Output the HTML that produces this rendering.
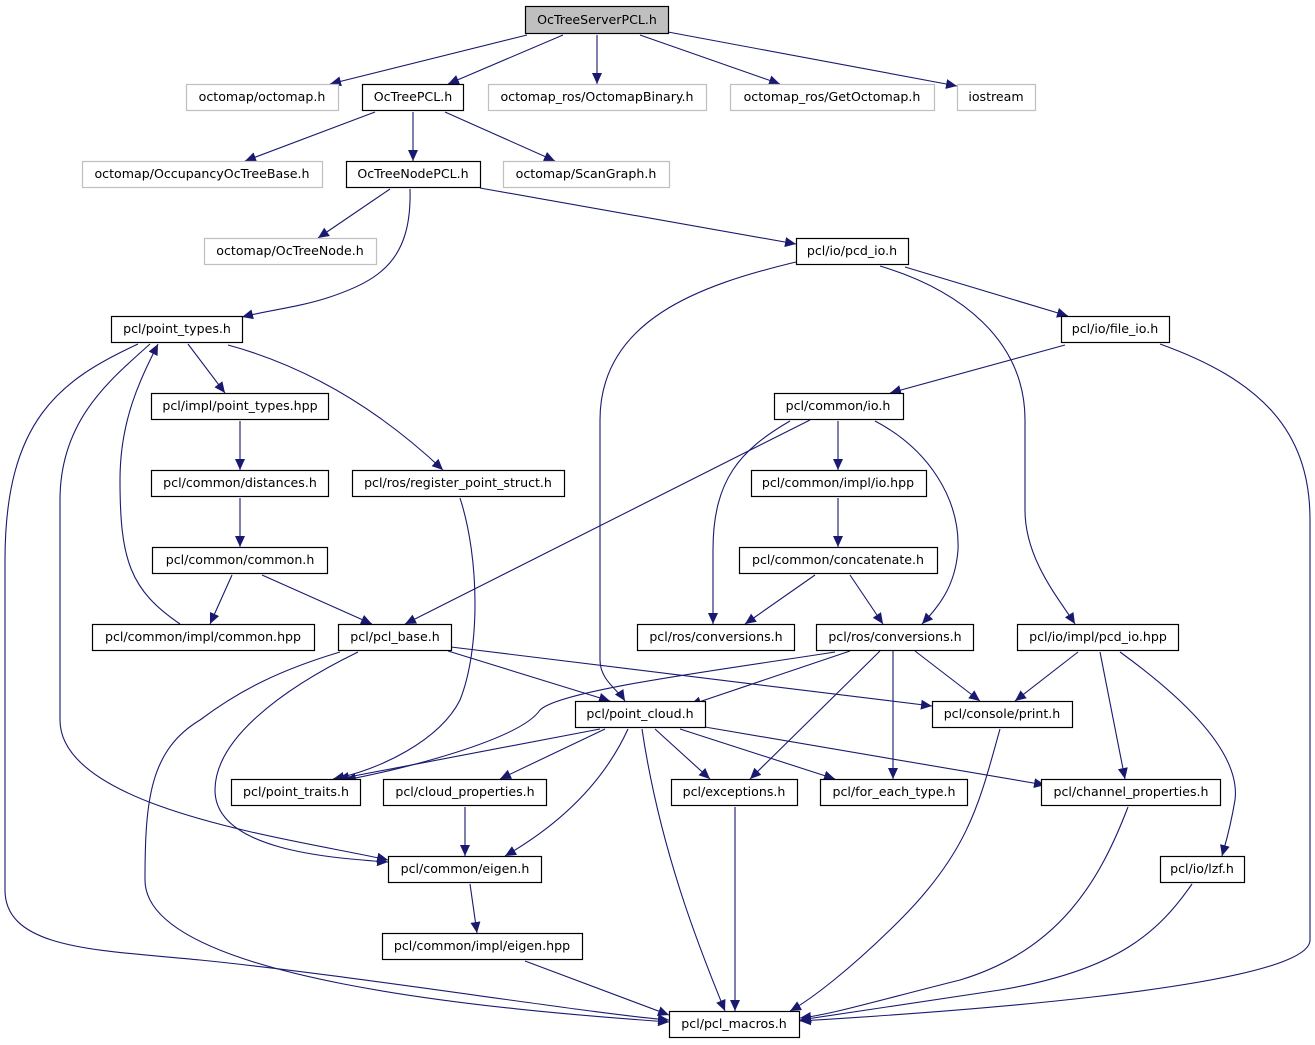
<!DOCTYPE html>
<html><head><meta charset="utf-8"><style>
html,body{margin:0;padding:0;background:#fff}
svg{display:block}
text{font-family:"DejaVu Sans","Liberation Sans",sans-serif;font-size:12.6px;fill:#000}
.n rect{fill:#fff;stroke:#000;stroke-width:1.2}
.g rect{fill:#fff;stroke:#bfbfbf;stroke-width:1.2}
path.e{fill:none;stroke:#191970;stroke-width:1.1;marker-end:url(#a)}
</style></head><body>
<svg width="1315" height="1045" viewBox="0 0 1315 1045" xmlns="http://www.w3.org/2000/svg">
<defs><marker id="a" markerUnits="userSpaceOnUse" markerWidth="12" markerHeight="10" refX="11" refY="5" orient="auto"><path d="M0,0 L11,5 L0,10 z" fill="#191970"/></marker></defs>
<g>
<path class="e" d="M527,35 L330,84"/>
<path class="e" d="M563,35 L448,84"/>
<path class="e" d="M597,35 L597,84"/>
<path class="e" d="M640,35 L780,84"/>
<path class="e" d="M668,32 L957,86"/>
<path class="e" d="M375,112 L245,161"/>
<path class="e" d="M413,112 L413,161"/>
<path class="e" d="M445,112 L555,161"/>
<path class="e" d="M390,189 L318,238"/>
<path class="e" d="M410,189 C412,260 380,280 330,297 C300,307 270,310 242,317"/>
<path class="e" d="M480,188 L796,244"/>
<path class="e" d="M796,262 C700,285 600,320 600,420 L600,660 C600,680 618,690 625,701"/>
<path class="e" d="M905,267 L1068,316"/>
<path class="e" d="M880,266 C960,290 1025,340 1025,420 L1025,510 C1025,560 1060,600 1075,624"/>
<path class="e" d="M1065,345 L890,393"/>
<path class="e" d="M1160,344 C1260,380 1310,430 1310,520 L1310,940 C1310,990 900,1015 800,1021"/>
<path class="e" d="M188,344 L225,393"/>
<path class="e" d="M228,345 C320,370 390,420 443,470"/>
<path class="e" d="M138,344 C60,380 5,420 5,560 L5,890 C5,950 100,950 200,960 C350,975 600,1015 669,1020"/>
<path class="e" d="M150,344 C110,380 60,420 60,500 L60,720 C60,810 300,840 388,860"/>
<path class="e" d="M180,624 C130,590 120,560 120,480 C120,420 140,380 158,344"/>
<path class="e" d="M240,421 L240,470"/>
<path class="e" d="M240,498 L240,547"/>
<path class="e" d="M232,575 L210,624"/>
<path class="e" d="M262,575 L372,624"/>
<path class="e" d="M460,498 C480,560 480,650 460,700 C440,740 380,770 333,779"/>
<path class="e" d="M810,420 L405,624"/>
<path class="e" d="M838,421 L838,470"/>
<path class="e" d="M790,421 C740,450 713,480 713,550 L713,624"/>
<path class="e" d="M875,421 C930,450 960,500 958,550 C955,590 935,610 922,624"/>
<path class="e" d="M838,498 L838,547"/>
<path class="e" d="M815,575 L745,624"/>
<path class="e" d="M850,575 L883,624"/>
<path class="e" d="M448,651 L610,701"/>
<path class="e" d="M451,647 L932,706"/>
<path class="e" d="M358,652 C280,690 215,740 215,790 C215,850 330,858 388,862"/>
<path class="e" d="M340,652 C280,670 240,690 200,720 C150,750 145,800 145,880 C145,980 500,1010 669,1022"/>
<path class="e" d="M850,651 L690,705"/>
<path class="e" d="M835,652 C720,670 560,690 540,710 C520,740 400,770 345,780"/>
<path class="e" d="M915,651 L980,701"/>
<path class="e" d="M880,651 L750,779"/>
<path class="e" d="M893,651 L893,779"/>
<path class="e" d="M1078,652 L1015,701"/>
<path class="e" d="M1100,652 L1125,779"/>
<path class="e" d="M1120,652 C1200,710 1240,760 1235,800 C1230,830 1225,845 1222,856"/>
<path class="e" d="M600,729 L338,779"/>
<path class="e" d="M605,729 L500,779"/>
<path class="e" d="M628,729 C600,790 550,830 505,856"/>
<path class="e" d="M655,729 L710,779"/>
<path class="e" d="M680,729 L835,779"/>
<path class="e" d="M705,727 L1045,785"/>
<path class="e" d="M642,729 C660,850 700,950 725,1011"/>
<path class="e" d="M1000,729 C980,800 970,850 900,920 C850,970 810,1000 790,1011"/>
<path class="e" d="M465,807 L465,856"/>
<path class="e" d="M735,807 L735,1011"/>
<path class="e" d="M1128,807 C1100,880 1060,950 960,980 C880,1000 830,1015 800,1018"/>
<path class="e" d="M1192,884 C1160,930 1120,970 1000,990 C900,1005 830,1015 800,1020"/>
<path class="e" d="M470,884 L477,933"/>
<path class="e" d="M525,961 L669,1015"/>
</g>
<g text-anchor="middle">
<g><rect x="525.5" y="6.5" width="143" height="27" fill="#bfbfbf" stroke="#000" stroke-width="1.2"/><text x="597" y="24">OcTreeServerPCL.h</text></g>
<g class="g"><rect x="186.5" y="84.5" width="152" height="26"/><text x="262" y="101">octomap/octomap.h</text></g>
<g class="n"><rect x="362.5" y="84.5" width="101" height="26"/><text x="413" y="101">OcTreePCL.h</text></g>
<g class="g"><rect x="488.5" y="84.5" width="218" height="26"/><text x="597" y="101">octomap_ros/OctomapBinary.h</text></g>
<g class="g"><rect x="730.5" y="84.5" width="204" height="26"/><text x="832" y="101">octomap_ros/GetOctomap.h</text></g>
<g class="g"><rect x="957.5" y="84.5" width="78" height="26"/><text x="996" y="101">iostream</text></g>
<g class="g"><rect x="82.5" y="161.5" width="240" height="26"/><text x="202" y="178">octomap/OccupancyOcTreeBase.h</text></g>
<g class="n"><rect x="346.5" y="161.5" width="134" height="26"/><text x="413" y="178">OcTreeNodePCL.h</text></g>
<g class="g"><rect x="503.5" y="161.5" width="166" height="26"/><text x="586" y="178">octomap/ScanGraph.h</text></g>
<g class="g"><rect x="204.5" y="238.5" width="172" height="26"/><text x="290" y="255">octomap/OcTreeNode.h</text></g>
<g class="n"><rect x="796.5" y="238.5" width="112" height="26"/><text x="852" y="255">pcl/io/pcd_io.h</text></g>
<g class="n"><rect x="111.5" y="316.5" width="131" height="26"/><text x="177" y="333">pcl/point_types.h</text></g>
<g class="n"><rect x="1061.5" y="316.5" width="108" height="26"/><text x="1115" y="333">pcl/io/file_io.h</text></g>
<g class="n"><rect x="151.5" y="393.5" width="177" height="26"/><text x="240" y="410">pcl/impl/point_types.hpp</text></g>
<g class="n"><rect x="774.5" y="393.5" width="129" height="26"/><text x="838" y="410">pcl/common/io.h</text></g>
<g class="n"><rect x="151.5" y="470.5" width="177" height="26"/><text x="240" y="487">pcl/common/distances.h</text></g>
<g class="n"><rect x="352.5" y="470.5" width="212" height="26"/><text x="458" y="487">pcl/ros/register_point_struct.h</text></g>
<g class="n"><rect x="751.5" y="470.5" width="175" height="26"/><text x="838" y="487">pcl/common/impl/io.hpp</text></g>
<g class="n"><rect x="152.5" y="547.5" width="175" height="26"/><text x="240" y="564">pcl/common/common.h</text></g>
<g class="n"><rect x="739.5" y="547.5" width="198" height="26"/><text x="838" y="564">pcl/common/concatenate.h</text></g>
<g class="n"><rect x="92.5" y="624.5" width="222" height="26"/><text x="203" y="641">pcl/common/impl/common.hpp</text></g>
<g class="n"><rect x="338.5" y="624.5" width="113" height="26"/><text x="395" y="641">pcl/pcl_base.h</text></g>
<g class="n"><rect x="637.5" y="624.5" width="157" height="26"/><text x="716" y="641">pcl/ros/conversions.h</text></g>
<g class="n"><rect x="816.5" y="624.5" width="157" height="26"/><text x="895" y="641">pcl/ros/conversions.h</text></g>
<g class="n"><rect x="1017.5" y="624.5" width="161" height="26"/><text x="1098" y="641">pcl/io/impl/pcd_io.hpp</text></g>
<g class="n"><rect x="575.5" y="701.5" width="130" height="26"/><text x="640" y="718">pcl/point_cloud.h</text></g>
<g class="n"><rect x="932.5" y="701.5" width="140" height="26"/><text x="1002" y="718">pcl/console/print.h</text></g>
<g class="n"><rect x="231.5" y="779.5" width="129" height="26"/><text x="296" y="796">pcl/point_traits.h</text></g>
<g class="n"><rect x="383.5" y="779.5" width="163" height="26"/><text x="465" y="796">pcl/cloud_properties.h</text></g>
<g class="n"><rect x="671.5" y="779.5" width="126" height="26"/><text x="734" y="796">pcl/exceptions.h</text></g>
<g class="n"><rect x="820.5" y="779.5" width="147" height="26"/><text x="894" y="796">pcl/for_each_type.h</text></g>
<g class="n"><rect x="1041.5" y="779.5" width="179" height="26"/><text x="1131" y="796">pcl/channel_properties.h</text></g>
<g class="n"><rect x="388.5" y="856.5" width="153" height="26"/><text x="465" y="873">pcl/common/eigen.h</text></g>
<g class="n"><rect x="1160.5" y="856.5" width="84" height="26"/><text x="1202" y="873">pcl/io/lzf.h</text></g>
<g class="n"><rect x="382.5" y="933.5" width="200" height="26"/><text x="482" y="950">pcl/common/impl/eigen.hpp</text></g>
<g class="n"><rect x="669.5" y="1011.5" width="130" height="26"/><text x="734" y="1028">pcl/pcl_macros.h</text></g>
</g>
</svg>
</body></html>
